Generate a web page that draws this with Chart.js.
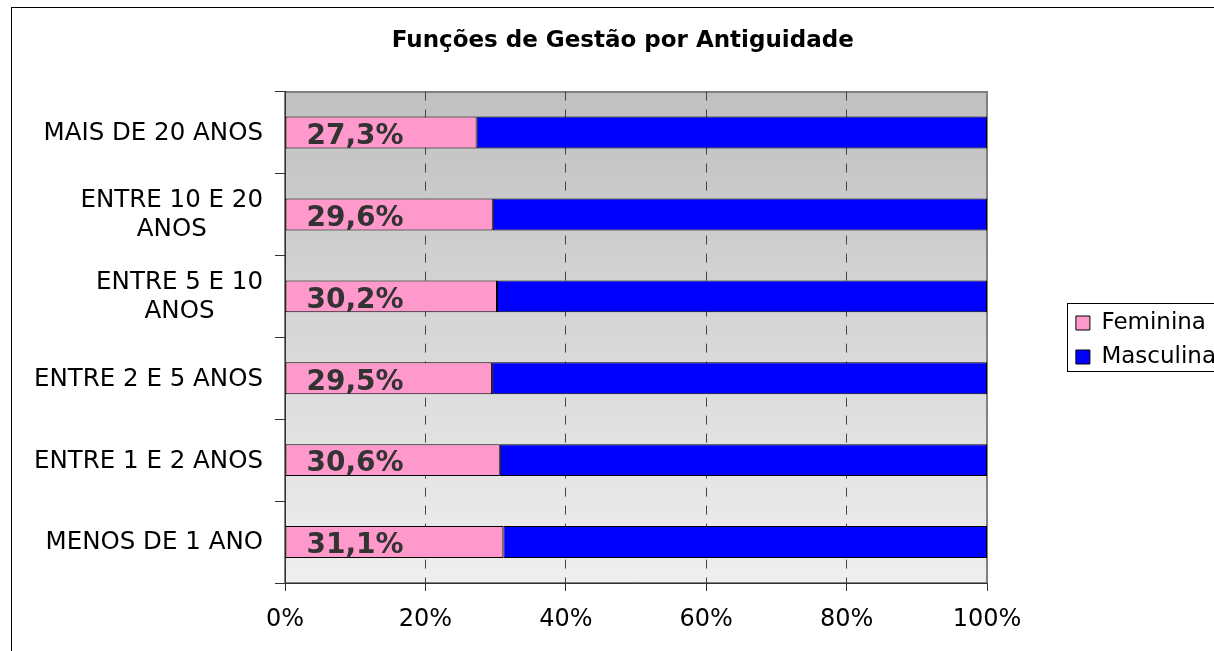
<!DOCTYPE html>
<html><head><meta charset="utf-8">
<script src="https://cdn.jsdelivr.net/npm/chart.js@4"></script>
<style>
html,body{margin:0;padding:0;background:#fff;overflow:hidden;width:1214px;height:651px;}
#frame{position:absolute;left:11px;top:7px;width:1400px;height:800px;border:1px solid #000;}
canvas{position:absolute;left:0;top:0;}
</style></head><body>
<div id="frame"><canvas id="c" width="1214" height="664"></canvas></div>
<script>
const titleText = 'Funções de Gestão por Antiguidade';
const categories = ['MAIS DE 20 ANOS', ['ENTRE 10 E 20', 'ANOS'], ['ENTRE 5 E 10', 'ANOS'], 'ENTRE 2 E 5 ANOS', 'ENTRE 1 E 2 ANOS', 'MENOS DE 1 ANO'];
const seriesNames = ['Feminina', 'Masculina'];
const feminina = [27.3, 29.6, 30.2, 29.5, 30.6, 31.1];
const masculina = [72.7, 70.4, 69.8, 70.5, 69.4, 68.9];
const xTicks = [0, 20, 40, 60, 80, 100];

const FONT = "'DejaVu Sans', Verdana, sans-serif";
Chart.defaults.font.family = FONT;
Chart.defaults.color = '#000';

const plotBg = {
  id: 'plotBg',
  beforeDraw(chart) {
    const {ctx, chartArea: a} = chart;
    ctx.save();
    const g = ctx.createLinearGradient(0, a.top, 0, a.bottom);
    g.addColorStop(0, '#c0c0c0');
    g.addColorStop(1, '#efefef');
    ctx.fillStyle = g;
    ctx.fillRect(a.left, a.top, a.right - a.left, a.bottom - a.top);
    ctx.strokeStyle = '#808080';
    ctx.lineWidth = 2;
    ctx.strokeRect(Math.round(a.left), Math.round(a.top), Math.round(a.right - a.left), Math.round(a.bottom - a.top));
    ctx.restore();
  }
};

const catLabels = {
  id: 'catLabels',
  afterDraw(chart) {
    const {ctx, chartArea: a} = chart;
    const ys = chart.scales.y;
    ctx.save();
    ctx.font = '24.5px ' + FONT;
    ctx.fillStyle = '#000';
    ctx.textBaseline = 'middle';
    ctx.textAlign = 'center';
    const right = a.left - 22;
    const lh = 29;
    categories.forEach((lab, i) => {
      const lines = Array.isArray(lab) ? lab : [lab];
      const w = Math.max(...lines.map(l => ctx.measureText(l).width));
      const cx = right - w / 2;
      const cy = ys.getPixelForValue(i) + 1;
      lines.forEach((l, j) => ctx.fillText(l, cx, cy + (j - (lines.length - 1) / 2) * lh));
    });
    ctx.restore();
  }
};

const dataLabels = {
  id: 'dataLabels',
  afterDatasetsDraw(chart) {
    const {ctx} = chart;
    const meta = chart.getDatasetMeta(0);
    ctx.save();
    ctx.font = 'bold 28px ' + FONT;
    ctx.fillStyle = '#333333';
    ctx.textAlign = 'left';
    ctx.textBaseline = 'middle';
    meta.data.forEach((el, i) => {
      const t = feminina[i].toFixed(1).replace('.', ',') + '%';
      ctx.fillText(t, el.base + 21, el.y + 4);
    });
    ctx.restore();
  }
};

const legendBox = {
  id: 'legendBox',
  afterDraw(chart) {
    const lg = chart.legend;
    if (!lg || !lg.legendHitBoxes || !lg.legendHitBoxes.length) return;
    const hb = lg.legendHitBoxes;
    const {ctx} = chart;
    ctx.save();
    ctx.strokeStyle = '#000';
    ctx.lineWidth = 1;
    const x = Math.round(hb[0].left - 9) + 0.5;
    const y = Math.round(hb[0].top - 8.5) + 0.5;
    const last = hb[hb.length - 1];
    const y2 = Math.round(last.top + last.height + 2.5) + 0.5;
    ctx.strokeRect(x, y, chart.width + 50 - x, y2 - y);
    ctx.restore();
  }
};

new Chart(document.getElementById('c'), {
  type: 'bar',
  data: {
    labels: categories,
    datasets: [
      {label: seriesNames[0], data: feminina, backgroundColor: '#ff99cc', borderColor: '#000', borderWidth: 1, borderSkipped: false, categoryPercentage: 1, barPercentage: 0.39},
      {label: seriesNames[1], data: masculina, backgroundColor: '#0000ff', borderColor: '#000', borderWidth: 1, borderSkipped: false, categoryPercentage: 1, barPercentage: 0.39}
    ]
  },
  options: {
    indexAxis: 'y',
    responsive: false,
    animation: false,
    devicePixelRatio: 1,
    events: [],
    layout: {padding: {left: 7.5, right: 0, top: 0, bottom: 0}},
    plugins: {
      title: {display: true, text: titleText, color: '#000', font: {size: 23, weight: 'bold'}, padding: {top: 19, bottom: 37}},
      legend: {position: 'right', align: 'center', labels: {boxWidth: 14, boxHeight: 14, padding: 11, color: '#000', font: {size: 23}}},
      tooltip: {enabled: false}
    },
    scales: {
      x: {
        stacked: true, min: xTicks[0], max: xTicks[xTicks.length - 1],
        ticks: {stepSize: 20, padding: 14, color: '#000', font: {size: 24}, callback: v => v + '%'},
        grid: {color: c => (c.index === 0 || c.index === xTicks.length - 1) ? 'rgba(0,0,0,0)' : '#444', lineWidth: 1, tickLength: 8, tickColor: '#333', drawTicks: true},
        border: {display: true, color: '#333', width: 1, dash: [9, 9]},
        afterFit(s) { s.height = 89; }
      },
      y: {
        stacked: true,
        ticks: {display: false},
        grid: {drawOnChartArea: false, tickLength: 10, tickColor: '#333', offset: true},
        border: {color: '#333', width: 1},
        afterFit(s) { s.width = 265.5; }
      },
      y2: {
        type: 'linear', position: 'right', display: true,
        ticks: {display: false}, grid: {display: false}, border: {display: false},
        afterFit(s) { const c = s.chart; s.width = Math.max(0, c.width - c.legend.width - 975); }
      }
    }
  },
  plugins: [plotBg, catLabels, dataLabels, legendBox]
});
</script>
</body></html>
